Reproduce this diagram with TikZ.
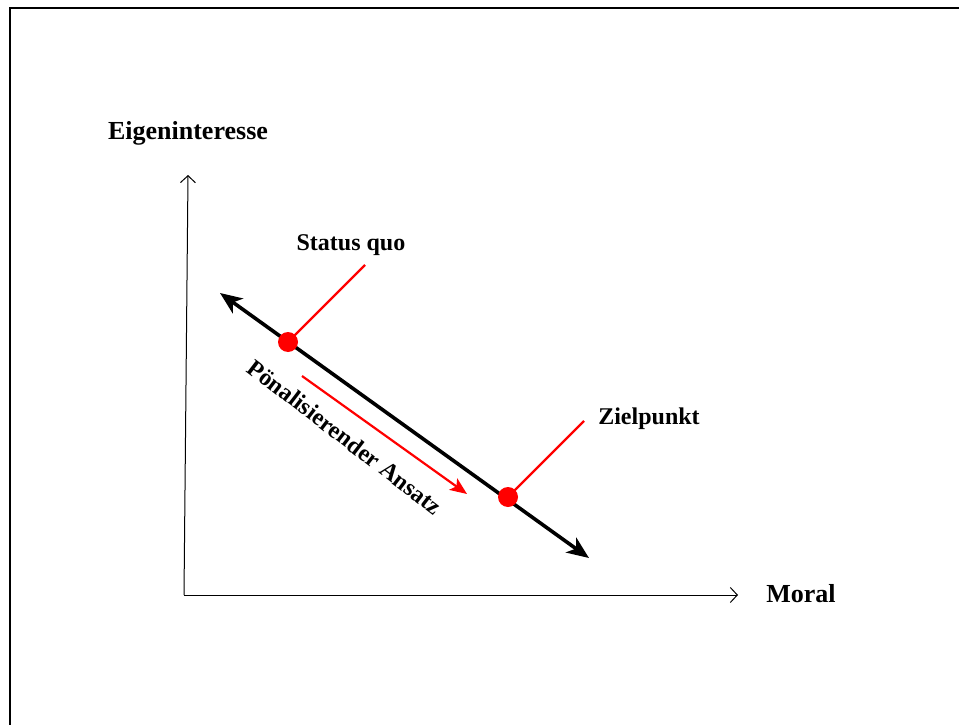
\documentclass[tikz,border=0pt]{standalone}
\usepackage{fontspec}
\setmainfont{Liberation Serif}
\usetikzlibrary{arrows.meta}
\begin{document}
\begin{tikzpicture}[x=1pt,y=-1pt,
  axislabel/.style={font=\fontsize{26}{28}\selectfont\bfseries, inner sep=0pt},
  ptlabel/.style={font=\fontsize{24}{26}\selectfont\bfseries, inner sep=0pt},
  axisline/.style={line width=1pt, -{Straight Barb[length=7pt,width=15pt]}},
  mainline/.style={line width=3.6pt, {Stealth[length=22pt,width=18pt,inset=6pt]}-{Stealth[length=22pt,width=18pt,inset=6pt]}},
  reddot/.style={circle, fill=red, minimum size=20pt, inner sep=0pt},
  redline/.style={red, line width=2.2pt},
  redarrow/.style={red, line width=2.2pt, -{Stealth[length=17pt,width=14pt,inset=4pt]}}]
\useasboundingbox (0,0) rectangle (959,725);
% outer frame
\draw[line width=2pt] (10,8) rectangle (975,740);

% axes
\coordinate (origin) at (184,595);
\coordinate (ytop) at (188,175);
\coordinate (xend) at (738,595);
\draw[axisline] (origin) -- (ytop);
\draw[axisline] (origin) -- (xend);
\node[axislabel] (ylab) at (188,133) {Eigeninteresse};
\node[axislabel] (xlab) at (801,594) {Moral};

% main line with both ends open
\coordinate (lstart) at (220,293);
\coordinate (lend) at (589,558);
\draw[mainline] (lstart) -- (lend);

% status quo and target point
\node[reddot] (sq) at (288,342) {};
\node[reddot] (zp) at (508,497) {};
\coordinate (sqtip) at (365,265);
\coordinate (zptip) at (584,421);
\draw[redline] (sq.center) -- (sqtip);
\draw[redline] (zp.center) -- (zptip);
\node[ptlabel] (sqlab) at (351,245) {Status quo};
\node[ptlabel] (zplab) at (649,419) {Zielpunkt};

% movement arrow and its label
\coordinate (ra) at (302,376);
\coordinate (rb) at (467,494);
\draw[redarrow] (ra) -- (rb);
\node[ptlabel, rotate=-37.5] (pa) at (345,437) {Pönalisierender Ansatz};
\end{tikzpicture}
\end{document}
